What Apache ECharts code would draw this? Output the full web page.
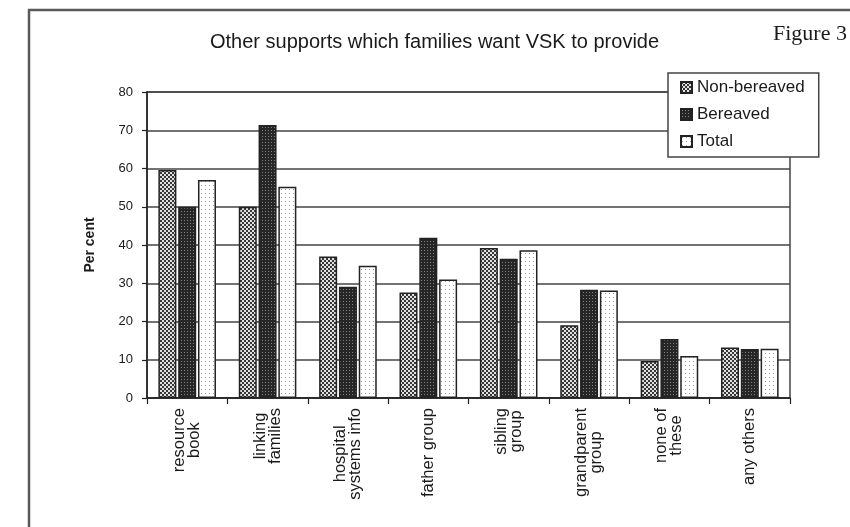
<!DOCTYPE html>
<html>
<head>
<meta charset="utf-8">
<script src="https://cdn.jsdelivr.net/npm/echarts@6/dist/echarts.min.js"></script>
<style>
  html, body { margin: 0; padding: 0; background: #ffffff; }
  #chart { width: 850px; height: 527px; }
</style>
</head>
<body>
<div id="chart"></div>
<script>
// Support categories and the share (per cent) of families wanting each one
const categories = ['resource\nbook', 'linking\nfamilies', 'hospital\nsystems info', 'father group',
                    'sibling\ngroup', 'grandparent\ngroup', 'none of\nthese', 'any others'];
const nonBereaved = [59.6, 50.0, 37.0, 27.6, 39.2, 19.0, 9.7, 13.2];
const bereaved    = [50.0, 71.4, 29.1, 41.9, 36.4, 28.3, 15.4, 12.8];
const total       = [57.0, 55.2, 34.6, 31.0, 38.6, 28.1, 11.0, 12.9];
const yTicks = [0, 10, 20, 30, 40, 50, 60, 70, 80];

// Small repeating tiles used as hatch fills for the bars
function makeTile(size, bg, dots) {
  const c = document.createElement('canvas');
  c.width = size; c.height = size;
  const g = c.getContext('2d');
  g.fillStyle = bg; g.fillRect(0, 0, size, size);
  dots.forEach(d => { g.fillStyle = d[4]; g.fillRect(d[0], d[1], d[2], d[3]); });
  return { image: c, repeat: 'repeat' };
}
const checkFill = makeTile(4, '#e2e2e2', [[0, 0, 2, 2, '#363636'], [2, 2, 2, 2, '#363636']]);
const darkFill  = makeTile(3, '#262626', [[1, 1, 1, 1, '#808080']]);
const dotFill   = makeTile(4, '#ffffff', [[1, 1, 1, 1, '#9a9a9a']]);

const ink = '#1a1a1a';
const lineInk = '#444444';
const sans = '"Liberation Sans", Arial, sans-serif';

const chart = echarts.init(document.getElementById('chart'), null, { renderer: 'canvas' });

function barSeries(name, data, fill) {
  return {
    name: name,
    type: 'bar',
    data: data,
    barWidth: 18,
    barGap: '10%',
    itemStyle: { color: fill, borderColor: '#222', borderWidth: 1.5 },
    emphasis: { disabled: true }
  };
}

chart.setOption({
  animation: false,
  backgroundColor: '#ffffff',
  title: {
    text: 'Other supports which families want VSK to provide',
    left: 205,
    top: 27,
    textStyle: { fontFamily: sans, fontSize: 20, fontWeight: 'normal', color: ink }
  },
  graphic: [
    {
      type: 'rect',
      shape: { x: 29, y: 10, width: 900, height: 600 },
      style: { fill: null, stroke: '#5a5a5a', lineWidth: 2.5 },
      silent: true
    },
    {
      type: 'text',
      x: 773, y: 34,
      style: {
        text: 'Figure 3',
        font: '22px "Liberation Serif", "Times New Roman", serif',
        fill: ink,
        verticalAlign: 'middle'
      },
      silent: true
    }
  ],
  legend: {
    orient: 'vertical',
    left: 668,
    top: 73,
    padding: [6, 14, 7, 12],
    itemGap: 10,
    itemWidth: 11,
    itemHeight: 11,
    icon: 'rect',
    backgroundColor: '#ffffff',
    borderColor: lineInk,
    borderWidth: 1.5,
    borderRadius: 0,
    textStyle: { fontFamily: sans, fontSize: 17, color: ink },
    data: ['Non-bereaved', 'Bereaved', 'Total']
  },
  grid: {
    left: 147, right: 60, top: 92, bottom: 129,
    show: true,
    borderColor: lineInk,
    borderWidth: 1.5,
    backgroundColor: '#ffffff'
  },
  xAxis: {
    type: 'category',
    data: categories,
    axisLine: { lineStyle: { color: '#222', width: 1.5 } },
    axisTick: { show: true, length: 6, lineStyle: { color: '#222', width: 1.2 } },
    axisLabel: {
      rotate: 90,
      margin: 10,
      interval: 0,
      formatter: v => v.split('\n').map(s => '{c|' + s + '}').join('\n'),
      rich: {
        c: { align: 'center', fontFamily: sans, fontSize: 16.5, lineHeight: 15, color: ink }
      }
    }
  },
  yAxis: {
    type: 'value',
    min: yTicks[0],
    max: yTicks[yTicks.length - 1],
    interval: yTicks[1] - yTicks[0],
    name: 'Per cent',
    nameLocation: 'middle',
    nameGap: 50,
    nameTextStyle: { fontFamily: sans, fontSize: 14, fontWeight: 'bold', color: ink },
    axisLine: { show: true, lineStyle: { color: '#222', width: 1.5 } },
    axisTick: { show: true, length: 5, lineStyle: { color: '#222', width: 1.2 } },
    axisLabel: { margin: 14, fontFamily: sans, fontSize: 13, color: ink },
    splitLine: { show: true, lineStyle: { color: lineInk, width: 1.5 } }
  },
  series: [
    barSeries('Non-bereaved', nonBereaved, checkFill),
    barSeries('Bereaved', bereaved, darkFill),
    barSeries('Total', total, dotFill)
  ]
});
</script>
</body>
</html>
